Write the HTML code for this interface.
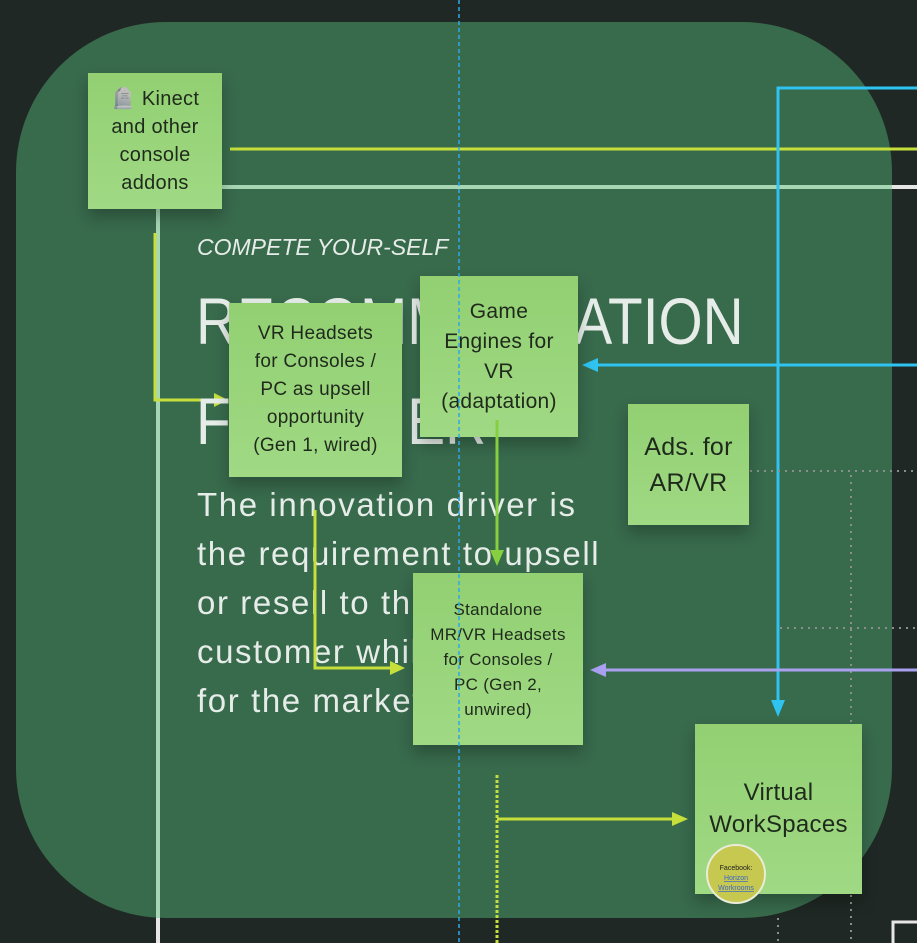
<!DOCTYPE html>
<html><head><meta charset="utf-8"><style>
html,body{margin:0;padding:0;}
body{width:917px;height:943px;background:#1f2824;position:relative;overflow:hidden;font-family:"Liberation Sans",sans-serif;}
.panel{position:absolute;left:16px;top:22px;width:876px;height:896px;background:#386a4c;border-radius:150px;}
.t{position:absolute;color:#e6ece8;white-space:nowrap;}
.st{position:absolute;background:linear-gradient(180deg,#92d072,#a0d984);color:#1f2a1c;display:flex;align-items:center;justify-content:center;text-align:center;box-shadow:0 8px 14px rgba(0,0,0,0.25);letter-spacing:0.3px;}
svg{position:absolute;left:0;top:0;}
</style></head><body>
<div class="panel"></div>
<svg width="917" height="943" style="z-index:1">
<line x1="230" y1="149" x2="917" y2="149" stroke="#c6df3a" stroke-width="3"/>
<line x1="222" y1="187" x2="892" y2="187" stroke="#a6d6b4" stroke-width="4"/>
<line x1="892" y1="187" x2="917" y2="187" stroke="#e6e6e6" stroke-width="4"/>
<line x1="158" y1="209" x2="158" y2="918" stroke="#a6d6b4" stroke-width="4"/>
<line x1="158" y1="918" x2="158" y2="943" stroke="#e6e6e6" stroke-width="4"/>
<polyline points="155,233 155,400 220,400" fill="none" stroke="#c6df3a" stroke-width="3"/>
<polygon points="228,400 214,393 214,407" fill="#c6df3a"/>
<polyline points="917,88 778,88 778,705" fill="none" stroke="#2ec3f0" stroke-width="3"/>
<polygon points="778,717 771,700 785,700" fill="#2ec3f0"/>
<line x1="917" y1="365" x2="595" y2="365" stroke="#2ec3f0" stroke-width="3"/>
<polygon points="582,365 598,358 598,372" fill="#2ec3f0"/>
<line x1="750" y1="471" x2="917" y2="471" stroke="#8a8f8c" stroke-width="2" stroke-dasharray="2 5"/>
<line x1="851" y1="475" x2="851" y2="943" stroke="#8a8f8c" stroke-width="2" stroke-dasharray="2 5"/>
<line x1="780" y1="628" x2="917" y2="628" stroke="#8a8f8c" stroke-width="2" stroke-dasharray="2 5"/>
<line x1="778" y1="918" x2="778" y2="943" stroke="#8a8f8c" stroke-width="2" stroke-dasharray="2 5"/>
<line x1="917" y1="670" x2="603" y2="670" stroke="#a9a0f0" stroke-width="3"/>
<polygon points="590,670 606,663 606,677" fill="#a9a0f0"/>
<polyline points="893,943 893,922 917,922" fill="none" stroke="#e6e6e6" stroke-width="3"/>
</svg>
<div class="t" style="left:197px;top:234px;font-size:23px;font-style:italic;z-index:2">COMPETE YOUR-SELF</div>
<div class="t" style="left:196px;top:271px;font-size:66px;line-height:100px;z-index:2;transform:scaleX(0.86);transform-origin:0 0">RECOMMENDATION<br>FRONTIER</div>
<div class="t" style="left:197px;top:480px;font-size:33px;line-height:49px;letter-spacing:1.6px;z-index:2">The innovation driver is<br>the requirement to upsell<br>or resell to the<br>customer while looking<br>for the market</div>
<div class="st" style="left:88px;top:73px;width:134px;height:136px;font-size:20px;line-height:28px;z-index:3">🪦 Kinect<br>and other<br>console<br>addons</div>
<div class="st" style="left:229px;top:303px;width:173px;height:174px;font-size:19px;line-height:28px;z-index:3">VR Headsets<br>for Consoles /<br>PC as upsell<br>opportunity<br>(Gen 1, wired)</div>
<div class="st" style="left:420px;top:276px;width:158px;height:161px;font-size:21px;line-height:30px;z-index:3">Game<br>Engines for<br>VR<br>(adaptation)</div>
<div class="st" style="left:628px;top:404px;width:121px;height:121px;font-size:25px;line-height:36px;z-index:3">Ads. for<br>AR/VR</div>
<div class="st" style="left:413px;top:573px;width:170px;height:172px;font-size:17px;line-height:25px;z-index:3">Standalone<br>MR/VR Headsets<br>for Consoles /<br>PC (Gen 2,<br>unwired)</div>
<div class="st" style="left:695px;top:724px;width:167px;height:170px;font-size:24px;line-height:32px;z-index:3">Virtual<br>WorkSpaces</div>
<svg width="917" height="943" style="z-index:4">
<line x1="459" y1="0" x2="459" y2="943" stroke="#2ea8e8" stroke-width="1.5" stroke-dasharray="4 3"/>
<line x1="497" y1="420" x2="497" y2="555" stroke="#86d040" stroke-width="3"/>
<polygon points="497,566 490,550 504,550" fill="#86d040"/>
<polyline points="315,510 315,668 395,668" fill="none" stroke="#c6df3a" stroke-width="3"/>
<polygon points="405,668 390,661 390,675" fill="#c6df3a"/>
<line x1="497" y1="775" x2="497" y2="943" stroke="#c6df3a" stroke-width="3" stroke-dasharray="3 2"/>
<line x1="497" y1="819" x2="676" y2="819" stroke="#c6df3a" stroke-width="3"/>
<polygon points="688,819 672,812 672,826" fill="#c6df3a"/>
<circle cx="736" cy="874" r="29" fill="#c6c850" stroke="#e8ecd8" stroke-width="2"/>
<text x="736" y="870" font-size="7" text-anchor="middle" fill="#222" font-family="Liberation Sans">Facebook:</text>
<text x="736" y="880" font-size="7" text-anchor="middle" fill="#3a66c8" text-decoration="underline" font-family="Liberation Sans">Horizon</text>
<text x="736" y="890" font-size="7" text-anchor="middle" fill="#3a66c8" text-decoration="underline" font-family="Liberation Sans">Workrooms</text>
</svg>
</body></html>
